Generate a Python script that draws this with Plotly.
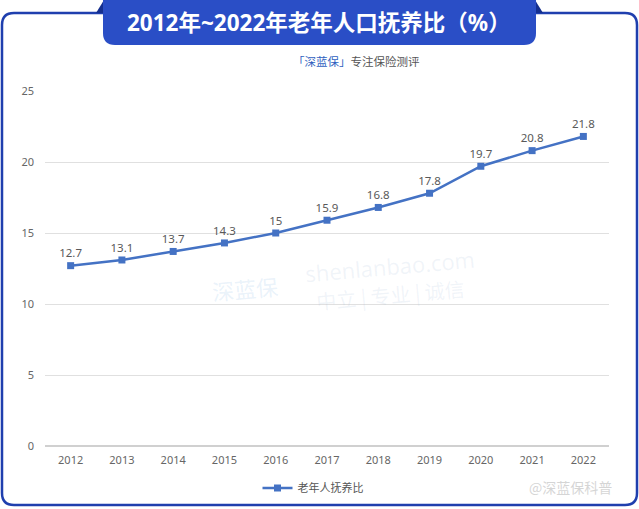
import plotly.graph_objects as go

years = ["2012", "2013", "2014", "2015", "2016", "2017", "2018", "2019", "2020", "2021", "2022"]
ratio = [12.7, 13.1, 13.7, 14.3, 15, 15.9, 16.8, 17.8, 19.7, 20.8, 21.8]
series_name = "老年人抚养比"
title_text = "2012年~2022年老年人口抚养比（%）"
y_ticks = [0, 5, 10, 15, 20, 25]

W, H = 639, 509
L, R, T, B = 45, 609, 91, 446


def px(x):
    return (x - L) / (R - L)


def py(y):
    return (B - y) / (B - T)


def path(points):
    return " ".join(points)


def rr_path(x0, y0, x1, y1, r):
    p = [
        f"M {px(x0 + r)},{py(y0)}",
        f"L {px(x1 - r)},{py(y0)}",
        f"Q {px(x1)},{py(y0)} {px(x1)},{py(y0 + r)}",
        f"L {px(x1)},{py(y1 - r)}",
        f"Q {px(x1)},{py(y1)} {px(x1 - r)},{py(y1)}",
        f"L {px(x0 + r)},{py(y1)}",
        f"Q {px(x0)},{py(y1)} {px(x0)},{py(y1 - r)}",
        f"L {px(x0)},{py(y0 + r)}",
        f"Q {px(x0)},{py(y0)} {px(x0 + r)},{py(y0)}",
        "Z",
    ]
    return path(p)


def banner_path(x0, y0, x1, y1, r):
    p = [
        f"M {px(x0)},{py(y0)}",
        f"L {px(x1)},{py(y0)}",
        f"L {px(x1)},{py(y1 - r)}",
        f"Q {px(x1)},{py(y1)} {px(x1 - r)},{py(y1)}",
        f"L {px(x0 + r)},{py(y1)}",
        f"Q {px(x0)},{py(y1)} {px(x0)},{py(y1 - r)}",
        "Z",
    ]
    return path(p)


fig = go.Figure()
fig.add_trace(go.Scatter(
    x=years, y=ratio, name=series_name,
    mode="lines+markers+text",
    line=dict(color="#4472c4", width=2.5),
    marker=dict(symbol="square", size=7, color="#4472c4"),
    text=[str(v) for v in ratio],
    textposition="top center",
    textfont=dict(family="Noto Sans, Open Sans, sans-serif", size=11.5, color="#595959"),
    cliponaxis=False,
))

frame_color = "#1f3fae"
shapes = [
    dict(type="path", xref="paper", yref="paper", path=rr_path(2, 13, 637, 505, 12),
         line=dict(color=frame_color, width=2.5), fillcolor="rgba(0,0,0,0)", layer="below"),
    dict(type="path", xref="paper", yref="paper",
         path=path([f"M {px(96)},{py(13)}", f"L {px(104)},{py(0)}", f"L {px(104)},{py(13)}", "Z"]),
         line=dict(width=0), fillcolor="#152f8f"),
    dict(type="path", xref="paper", yref="paper",
         path=path([f"M {px(543)},{py(13)}", f"L {px(535)},{py(0)}", f"L {px(535)},{py(13)}", "Z"]),
         line=dict(width=0), fillcolor="#152f8f"),
    dict(type="path", xref="paper", yref="paper", path=banner_path(103, 0, 536, 45, 12),
         line=dict(width=0), fillcolor="#2a4ec6"),
]


def ann(text, x, y, font, angle=0):
    return dict(text=text, x=px(x), y=py(y), xref="paper", yref="paper", showarrow=False,
                xanchor="center", yanchor="middle", textangle=angle, font=font)


wm = "rgba(160,185,215,0.16)"
annotations = [
    ann(f"<b>{title_text}</b>", 319, 22,
        dict(family="Noto Sans, Noto Sans CJK SC, sans-serif", size=22.5, color="white")),
    ann("<span style='color:#2f5fc0'>「深蓝保」</span>专注保险测评", 356, 61,
        dict(family="Noto Sans CJK SC", size=11.5, color="#555555")),
    ann("shenlanbao.com", 390, 266, dict(family="Open Sans", size=22, color=wm), -5),
    ann("中立 | 专业 | 诚信", 390, 294, dict(family="Noto Sans CJK SC", size=20, color=wm), -5),
    ann("深蓝保", 245, 288, dict(family="Noto Sans CJK SC", size=22, color="rgba(130,180,225,0.18)"), -5),
    ann("@深蓝保科普", 570, 487, dict(family="Noto Sans CJK SC", size=14, color="rgba(200,200,200,0.75)")),
]

fig.update_layout(
    width=W, height=H,
    margin=dict(l=L, r=W - R, t=T, b=H - B, pad=0, autoexpand=False),
    paper_bgcolor="white", plot_bgcolor="white",
    showlegend=True,
    legend=dict(orientation="h", x=px(313), y=py(488), xanchor="center", yanchor="middle",
                font=dict(family="Noto Sans CJK SC", size=11, color="#555555"),
                bgcolor="rgba(0,0,0,0)"),
    xaxis=dict(type="category", range=[-0.5, 10.5], showgrid=False, zeroline=False,
               showline=False, ticks="", ticklabelstandoff=6,
               tickfont=dict(family="Noto Sans, Open Sans", size=11, color="#666666")),
    yaxis=dict(range=[0, 25], tickvals=y_ticks, showgrid=True, gridcolor="#e0e0e0", gridwidth=1,
               zeroline=True, zerolinecolor="#d0d0d0", showline=False, ticks="",
               ticklabelstandoff=10,
               tickfont=dict(family="Noto Sans, Open Sans", size=11, color="#666666")),
    shapes=shapes,
    annotations=annotations,
)

fig.write_html(
    "out.html",
    config={"displayModeBar": False},
    post_script=(
        "document.documentElement.style.margin='0';"
        "document.documentElement.style.overflow='hidden';"
        "document.body.style.margin='0';"
        "document.body.style.overflow='hidden';"
        "document.body.style.height='509px';"
    ),
)
